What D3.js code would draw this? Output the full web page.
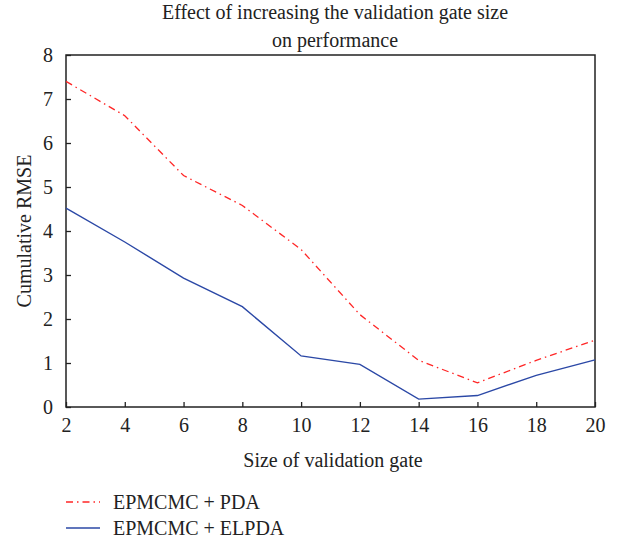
<!DOCTYPE html>
<html>
<head>
<meta charset="utf-8">
<script src="https://cdn.jsdelivr.net/npm/d3@7"></script>
<style>
  body { margin: 0; background: #fff; }
  text { font-family: "Liberation Serif", "DejaVu Serif", serif; fill: #222; }
</style>
</head>
<body>
<svg id="graph" width="617" height="541"></svg>
<script>
/*******************************************************************************************/
// Data

var gateSizes = [2, 4, 6, 8, 10, 12, 14, 16, 18, 20];
var pdaRmse   = [7.40, 6.62, 5.26, 4.58, 3.58, 2.10, 1.06, 0.55, 1.06, 1.52];
var elpdaRmse = [4.52, 3.75, 2.93, 2.28, 1.16, 0.97, 0.18, 0.26, 0.72, 1.07];
var xTicks = [2, 4, 6, 8, 10, 12, 14, 16, 18, 20];
var yTicks = [0, 1, 2, 3, 4, 5, 6, 7, 8];
var seriesNames = ['EPMCMC + PDA', 'EPMCMC + ELPDA'];

/*******************************************************************************************/
// Layout

var svg = d3.select('#graph');
var mLeft = 66, mRight = 595, mTop = 55, mBottom = 407;
var fontSize = '20px';

var xScale = d3.scaleLinear().domain([2, 20]).range([mLeft, mRight]);
var yScale = d3.scaleLinear().domain([0, 8]).range([mBottom, mTop]);

var lineGen = d3.line().x(function(d){ return xScale(d[0]) }).y(function(d){ return yScale(d[1]) });

// Title
svg.append('text').attr('x', 335).attr('y', 19).attr('text-anchor', 'middle')
   .style('font-size', fontSize).text('Effect of increasing the validation gate size');
svg.append('text').attr('x', 335).attr('y', 47).attr('text-anchor', 'middle')
   .style('font-size', fontSize).text('on performance');

// Box
svg.append('rect').attr('x', mLeft).attr('y', mTop).attr('width', mRight - mLeft).attr('height', mBottom - mTop)
   .style('fill', 'none').style('stroke', '#222').style('stroke-width', 1.5);

// Axes (ticks point inward)
var xAxis = svg.append('g').attr('transform', 'translate(0,' + mBottom + ')')
   .call(d3.axisBottom(xScale).tickValues(xTicks).tickSizeInner(-5).tickSizeOuter(0).tickPadding(11));
var yAxis = svg.append('g').attr('transform', 'translate(' + mLeft + ',0)')
   .call(d3.axisLeft(yScale).tickValues(yTicks).tickSizeInner(-5).tickSizeOuter(0).tickPadding(13));

[xAxis, yAxis].forEach(function(ax){
  ax.select('.domain').remove();
  ax.selectAll('line').style('stroke', '#222').style('stroke-width', 1.3);
  ax.selectAll('text').style('font-size', fontSize).style('fill', '#222')
    .style('font-family', '"Liberation Serif", "DejaVu Serif", serif');
});

// Axis labels
svg.append('text').attr('x', 333).attr('y', 467).attr('text-anchor', 'middle')
   .style('font-size', fontSize).text('Size of validation gate');
svg.append('text').attr('transform', 'translate(31,' + ((mTop + mBottom) / 2) + ') rotate(-90)')
   .attr('text-anchor', 'middle').style('font-size', fontSize).text('Cumulative RMSE');

// Lines
var pdaPts = gateSizes.map(function(g, i){ return [g, pdaRmse[i]] });
var elpdaPts = gateSizes.map(function(g, i){ return [g, elpdaRmse[i]] });

svg.append('path').datum(elpdaPts).attr('d', lineGen)
   .style('fill', 'none').style('stroke', '#2b48a6').style('stroke-width', 1.4);
svg.append('path').datum(pdaPts).attr('d', lineGen)
   .style('fill', 'none').style('stroke', '#ff2626').style('stroke-width', 1.3)
   .style('stroke-dasharray', '7,4,1.5,4');

/*******************************************************************************************/
// Legend

var legend = svg.append('g');
var legendStyles = [
  { stroke: '#ff2626', dash: '7,4,1.5,4' },
  { stroke: '#2b48a6', dash: null }
];
for(var i = 0; i < seriesNames.length; i++){
  var ly = 502 + i * 26;
  legend.append('line').attr('x1', 66).attr('x2', 100).attr('y1', ly).attr('y2', ly)
        .style('stroke', legendStyles[i].stroke).style('stroke-width', 1.4)
        .style('stroke-dasharray', legendStyles[i].dash);
  legend.append('text').attr('x', 113).attr('y', ly + 7).style('font-size', fontSize).text(seriesNames[i]);
}
</script>
</body>
</html>
